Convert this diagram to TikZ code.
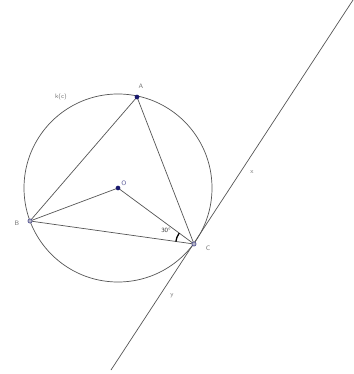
\documentclass[tikz,border=0pt]{standalone}
\usepackage{tikz}
\usetikzlibrary{angles,quotes}
\definecolor{ptblue}{RGB}{25,25,110}
\definecolor{ptgray}{RGB}{110,110,140}
\definecolor{linegray}{RGB}{85,85,85}
\definecolor{lblgray}{RGB}{110,110,110}

\begin{document}
\begin{tikzpicture}[
    x=0.03cm, y=-0.03cm,
    pt/.style={circle,fill=ptblue,inner sep=0pt,minimum size=4pt},
    ptc/.style={circle,draw=ptblue!80,fill=ptgray!50,line width=0.5pt,inner sep=0pt,minimum size=3.6pt},
    lbl/.style={font=\sffamily\fontsize{5.5}{6}\selectfont,text=lblgray,inner sep=0pt},
    seg/.style={draw=linegray,line width=0.6pt}
  ]
    \useasboundingbox (0,0) rectangle (353,374);

    % points on the circle k
    \coordinate (O) at (118,188);
    \coordinate (A) at (137,97);
    \coordinate (B) at (30,221);
    \coordinate (C) at (194,244);
    \coordinate (xend) at (353,0);
    \coordinate (yend) at (111,370);

    \draw[seg] (O) circle[radius=2.82cm];
    \draw[seg] (B) -- (A) -- (C) -- (B);
    \draw[seg] (B) -- (O) -- (C);
    \draw[seg] (yend) -- (xend);

    % angle at C
    \pic[draw=black,line width=1.1pt,angle radius=0.55cm] {angle=O--C--B};

    \node[pt] (ptA) at (A) {};
    \node[pt] (ptO) at (O) {};
    \node[ptc] (ptB) at (B) {};
    \node[ptc] (ptC) at (C) {};

    \node[lbl] (lA) at (141,86) {A};
    \node[lbl] (lB) at (17,223) {B};
    \node[lbl] (lC) at (208,248) {C};
    \node[lbl,text=ptblue!70] (lO) at (124,183) {O};
    \node[lbl] (lk) at (61,97) {k(c)};
    \node[lbl] (lx) at (252,172) {x};
    \node[lbl] (ly) at (172,296) {y};
    \node[lbl,text=black!80] (lang) at (166,230) {30°};
\end{tikzpicture}
\end{document}
